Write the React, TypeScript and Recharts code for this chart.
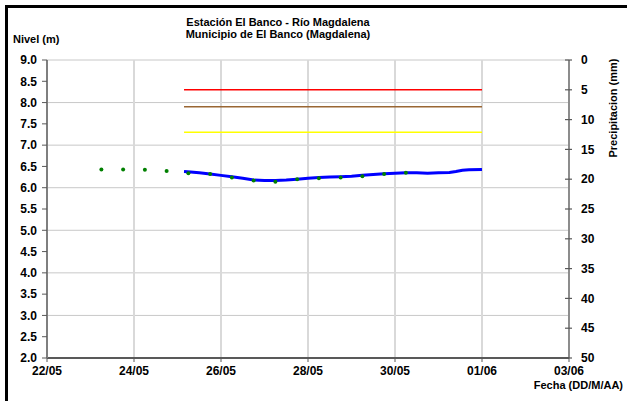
import React from "react";
import { ComposedChart, Line, XAxis, YAxis, CartesianGrid } from "recharts";

// Day-of-May numbers (32 = 01/06, 34 = 03/06)
const dayTicks = [22, 24, 26, 28, 30, 32, 34];
const dayTickLabels = ["22/05", "24/05", "26/05", "28/05", "30/05", "01/06", "03/06"];
const levelTicks = [2.0, 2.5, 3.0, 3.5, 4.0, 4.5, 5.0, 5.5, 6.0, 6.5, 7.0, 7.5, 8.0, 8.5, 9.0];
const precipTicks = [0, 5, 10, 15, 20, 25, 30, 35, 40, 45, 50];

// Observed readings (green dots)
const obsDays = [23.25, 23.75, 24.25, 24.75, 25.25, 25.75, 26.25, 26.75, 27.25, 27.75, 28.25, 28.75, 29.25, 29.75, 30.25];
const obsLevels = [6.43, 6.43, 6.42, 6.39, 6.34, 6.32, 6.24, 6.17, 6.14, 6.2, 6.22, 6.24, 6.27, 6.32, 6.35];

// Automatic sensor level (blue line)
const autoDays = [25.15, 25.3, 25.5, 25.75, 26.0, 26.25, 26.5, 26.75, 27.0, 27.25, 27.5, 27.75, 28.0, 28.25, 28.5, 28.75, 29.0, 29.25, 29.5, 29.75, 30.0, 30.25, 30.5, 30.75, 31.0, 31.25, 31.4, 31.55, 31.7, 32.0];
const autoLevels = [6.38, 6.37, 6.35, 6.32, 6.29, 6.26, 6.22, 6.18, 6.17, 6.17, 6.18, 6.2, 6.22, 6.24, 6.25, 6.26, 6.27, 6.29, 6.31, 6.33, 6.34, 6.35, 6.35, 6.34, 6.35, 6.36, 6.38, 6.41, 6.42, 6.43];

// Alert thresholds
const thresholdDays = [25.15, 32.0];
const redLevel = 8.3;
const brownLevel = 7.9;
const yellowLevel = 7.3;

const obsData = obsDays.map((d, i) => ({ day: d, level: obsLevels[i] }));
const autoData = autoDays.map((d, i) => ({ day: d, level: autoLevels[i] }));
const mkThreshold = (v: number) => thresholdDays.map((d) => ({ day: d, level: v }));

const FONT = "'Liberation Sans', Arial, Helvetica, sans-serif";
const tickStyle = { fontFamily: FONT, fontWeight: 700, fontSize: 12, fill: "#000" };

const RightTick = (props: any) => {
  const { x, y, payload } = props;
  const axisX = x - 4 - 8;
  return (
    <g>
      <line x1={axisX - 4} x2={axisX + 3} y1={y} y2={y} stroke="#595959" strokeWidth={1.2} />
      <text x={x} y={y} dy="0.35em" textAnchor="start" {...tickStyle}>
        {payload.value}
      </text>
    </g>
  );
};

export default function App() {
  return (
    <div style={{ position: "absolute", left: 0, top: 0, width: 627, height: 401, background: "#fff" }}>
      <ComposedChart
        width={627}
        height={401}
        margin={{ top: 60, right: 8, bottom: 13, left: 7 }}
        style={{ position: "absolute", left: 0, top: 0 }}
      >
        <CartesianGrid horizontal={true} vertical={false} stroke="#c8c8c8" strokeWidth={1} yAxisId="level" />
        <CartesianGrid horizontal={false} vertical={true} stroke="#d9d9d9" strokeWidth={2} yAxisId="level" />
        <XAxis
          dataKey="day"
          type="number"
          domain={[22, 34]}
          ticks={dayTicks}
          tickFormatter={(v: number) => dayTickLabels[dayTicks.indexOf(v)]}
          allowDataOverflow
          height={30}
          tickSize={4}
          tickMargin={4}
          stroke="#595959"
          axisLine={{ stroke: "#595959", strokeWidth: 2 }}
          tickLine={{ stroke: "#595959" }}
          tick={tickStyle}
        />
        <YAxis
          yAxisId="level"
          orientation="left"
          type="number"
          domain={[2, 9]}
          ticks={levelTicks}
          tickFormatter={(v: number) => v.toFixed(1)}
          allowDataOverflow
          width={40}
          tickSize={5}
          tickMargin={5}
          axisLine={{ stroke: "#7f7f7f", strokeWidth: 2 }}
          tickLine={{ stroke: "#595959" }}
          tick={tickStyle}
        />
        <YAxis
          yAxisId="precip"
          orientation="right"
          type="number"
          domain={[0, 50]}
          ticks={precipTicks}
          reversed
          allowDataOverflow
          width={50}
          tickSize={4}
          tickMargin={8}
          axisLine={{ stroke: "#595959", strokeWidth: 1.2 }}
          tickLine={false}
          tick={<RightTick />}
        />
        <Line yAxisId="level" data={mkThreshold(redLevel)} dataKey="level" stroke="#ff0000" strokeWidth={1.5} dot={false} isAnimationActive={false} />
        <Line yAxisId="level" data={mkThreshold(brownLevel)} dataKey="level" stroke="#996633" strokeWidth={1.5} dot={false} isAnimationActive={false} />
        <Line yAxisId="level" data={mkThreshold(yellowLevel)} dataKey="level" stroke="#ffff00" strokeWidth={1.5} dot={false} isAnimationActive={false} />
        <Line yAxisId="level" data={autoData} dataKey="level" stroke="#0000ff" strokeWidth={3} dot={false} isAnimationActive={false} />
        <Line
          yAxisId="level"
          data={obsData}
          dataKey="level"
          stroke="none"
          strokeWidth={0}
          dot={{ r: 2, fill: "#008000", stroke: "none" }}
          isAnimationActive={false}
        />
      </ComposedChart>
      <svg width={627} height={401} style={{ position: "absolute", left: 0, top: 0, pointerEvents: "none" }}>
        <text x={278} y={26} textAnchor="middle" style={{ fontFamily: FONT, fontWeight: 700, fontSize: 11 }} fill="#000">
          Estación El Banco - Río Magdalena
        </text>
        <text x={278} y={38} textAnchor="middle" style={{ fontFamily: FONT, fontWeight: 700, fontSize: 11 }} fill="#000">
          Municipio de El Banco (Magdalena)
        </text>
        <text x={13} y={43} textAnchor="start" style={{ fontFamily: FONT, fontWeight: 700, fontSize: 11 }} fill="#000">
          Nivel (m)
        </text>
        <text
          x={0}
          y={0}
          transform="translate(617,108) rotate(-90)"
          textAnchor="middle"
          style={{ fontFamily: FONT, fontWeight: 700, fontSize: 11 }}
          fill="#000"
        >
          Precipitacion (mm)
        </text>
        <text x={623} y={389} textAnchor="end" style={{ fontFamily: FONT, fontWeight: 700, fontSize: 11 }} fill="#000">
          Fecha (DD/M/AA)
        </text>
      </svg>
      <div
        style={{
          position: "absolute",
          left: 5,
          top: 5,
          width: 619,
          height: 393,
          borderTop: "3px solid #000",
          borderLeft: "3px solid #000",
          pointerEvents: "none",
        }}
      />
    </div>
  );
}
